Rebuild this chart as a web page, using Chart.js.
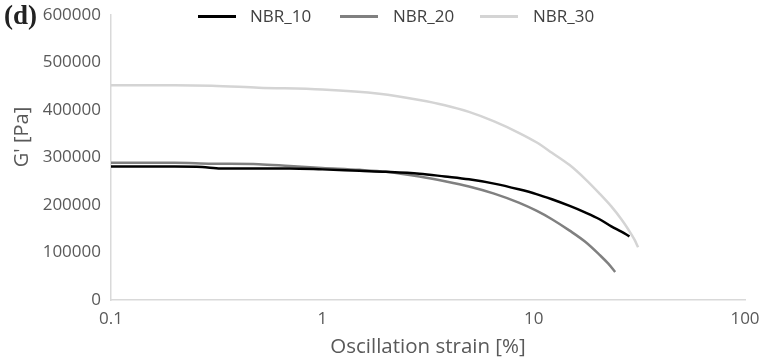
<!DOCTYPE html>
<html>
<head>
<meta charset="utf-8">
<script src="https://cdn.jsdelivr.net/npm/chart.js@4.4.1/dist/chart.umd.min.js"></script>
<style>
  html, body { margin: 0; padding: 0; background: #fff; }
  #wrap { position: relative; width: 762px; height: 359px; }
  #panel { position: absolute; left: 4px; top: 0px; font: bold 27px 'Liberation Serif', serif; color: #222; }
  #ytitle { position: absolute; left: 20px; top: 137px; font: 20px 'Open Sans', sans-serif; color: #595959;
            transform: translate(-50%, -50%) rotate(-90deg); white-space: nowrap; }
  #legend { position: absolute; top: 4px; left: 0; width: 762px; height: 24px; font: 17px 'Open Sans', sans-serif; color: #404040; }
  #legend span { position: absolute; top: 0; line-height: 24px; white-space: nowrap; }
  #legend i { position: absolute; top: 11px; height: 3px; width: 38px; }
</style>
</head>
<body>
<div id="wrap">
  <canvas id="chart" width="762" height="359"></canvas>
  <div id="panel">(d)</div>
  <div id="ytitle">G' [Pa]</div>
  <div id="legend"></div>
</div>
<script>
// strain [%] and G' [Pa]
const strain10 = [0.1, 0.2, 0.27, 0.33, 0.45, 0.7, 1.0, 1.5, 2.0, 2.88, 3.8, 4.94, 6.5, 8.5, 10.3, 12.2, 14.8, 17.6, 20.5, 23.3, 26, 28.4];
const nbr10 = [281000, 281000, 280000, 277000, 277000, 277000, 275000, 272000, 270000, 266000, 260000, 254000, 245000, 233000, 223000, 212000, 198000, 184000, 170000, 155000, 144000, 134000];

const strain20 = [0.1, 0.2, 0.3, 0.5, 0.7, 1.0, 1.5, 2.0, 2.88, 3.8, 4.94, 6.5, 8.5, 10.3, 12.2, 14.8, 17.6, 20.5, 22.5, 24.3];
const nbr20 = [289000, 289000, 287000, 286000, 282000, 278000, 274000, 270000, 260000, 250000, 239000, 224000, 205000, 188000, 170000, 146000, 122000, 95000, 77000, 59000];

const strain30 = [0.1, 0.2, 0.3, 0.5, 1.0, 1.86, 2.88, 3.8, 4.94, 6.5, 8.5, 10.3, 12.2, 14.8, 17.6, 20.3, 23.3, 26, 28, 30, 31.2];
const nbr30 = [452000, 452000, 451000, 447000, 443000, 434000, 421000, 410000, 396000, 376000, 352000, 332000, 310000, 284000, 254000, 226000, 197000, 170000, 149000, 127000, 111000];

const seriesNames = ['NBR_10', 'NBR_20', 'NBR_30'];
const seriesColors = ['#000000', '#808080', '#d4d4d4'];

const xTicks = [0.1, 1, 10, 100];
const xTickLabels = ['0.1', '1', '10', '100'];
const yTicks = [0, 100000, 200000, 300000, 400000, 500000, 600000];

const toPoints = (xs, ys) => xs.map((x, i) => ({ x, y: ys[i] }));
const strains = [strain10, strain20, strain30];
const values = [nbr10, nbr20, nbr30];

const datasets = seriesNames.map((name, i) => ({
  label: name,
  data: toPoints(strains[i], values[i]),
  borderColor: seriesColors[i],
  borderWidth: 2.5,
  pointRadius: 0,
  cubicInterpolationMode: 'monotone',
  fill: false
}));

// legend as html, built from the datasets
const legendPos = [[198, 250], [340, 393], [480, 533]];
const legend = document.getElementById('legend');
datasets.forEach((ds, i) => {
  const line = document.createElement('i');
  line.style.left = legendPos[i][0] + 'px';
  line.style.background = ds.borderColor;
  const txt = document.createElement('span');
  txt.style.left = legendPos[i][1] + 'px';
  txt.textContent = ds.label;
  legend.appendChild(line);
  legend.appendChild(txt);
});

const tickFont = { family: "'Open Sans', sans-serif", size: 17 };
const textColor = '#595959';

new Chart(document.getElementById('chart'), {
  type: 'line',
  data: { datasets },
  options: {
    responsive: false,
    animation: false,
    layout: { padding: { top: 15, right: 17, left: 0, bottom: 0 } },
    plugins: { legend: { display: false }, tooltip: { enabled: false } },
    scales: {
      x: {
        type: 'logarithmic',
        min: 0.1,
        max: 100,
        grid: { display: false, drawTicks: false },
        border: { display: true, color: '#d9d9d9', width: 1.5 },
        afterBuildTicks: (s) => { s.ticks = xTicks.map(v => ({ value: v })); },
        afterFit: (s) => { s.height = 59; s.paddingLeft = 0; s.paddingRight = 0; },
        ticks: {
          autoSkip: false,
          maxRotation: 0,
          padding: 9,
          color: textColor,
          font: tickFont,
          callback: (v) => xTickLabels[xTicks.indexOf(v)]
        },
        title: {
          display: true,
          text: 'Oscillation strain [%]',
          color: textColor,
          font: { family: "'Open Sans', sans-serif", size: 20.5 },
          padding: { top: 0, bottom: 0 }
        }
      },
      y: {
        min: 0,
        max: 600000,
        grid: { display: false, drawTicks: false },
        border: { display: true, color: '#d9d9d9', width: 1.5 },
        afterBuildTicks: (s) => { s.ticks = yTicks.map(v => ({ value: v })); },
        afterFit: (s) => { s.width = 111; s.paddingTop = 0; s.paddingBottom = 0; },
        ticks: {
          padding: 10,
          color: textColor,
          font: tickFont,
          callback: (v) => String(v)
        }
      }
    }
  }
});
</script>
</body>
</html>
